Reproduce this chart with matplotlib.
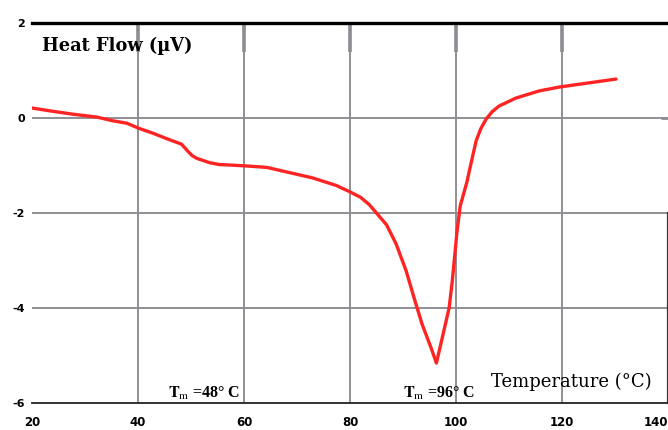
import matplotlib
matplotlib.use("Agg")
import matplotlib.pyplot as plt

# DSC heating curve: temperature (°C) vs heat flow (µV)
temperature = [20.0, 23.4, 27.7, 32.2, 35.3, 37.9, 40.0, 42.8, 46.0, 48.2, 49.4,
               50.2, 51.1, 53.5, 55.3, 57.3, 60.5, 64.3, 68.6, 72.9, 77.4, 79.9,
               82.0, 83.6, 85.0, 86.9, 88.7, 90.6, 92.1, 93.6, 95.3, 96.3, 97.4,
               98.7, 99.3, 100.2, 100.8, 102.1, 102.5, 103.8, 104.7, 105.7, 106.8,
               108.1, 111.3, 115.7, 119.4, 125.1, 130.2]
heat_flow = [0.21, 0.15, 0.08, 0.02, -0.06, -0.11, -0.21, -0.32, -0.46, -0.55, -0.70,
             -0.79, -0.85, -0.94, -0.98, -0.99, -1.01, -1.04, -1.15, -1.26, -1.42, -1.55,
             -1.67, -1.82, -2.00, -2.25, -2.65, -3.22, -3.79, -4.34, -4.84, -5.16, -4.63,
             -4.00, -3.43, -2.38, -1.85, -1.33, -1.12, -0.48, -0.22, -0.02, 0.13,
             0.25, 0.42, 0.57, 0.65, 0.74, 0.82]

x_ticks = [20, 40, 60, 80, 100, 120, 140]
x_tick_labels = ["20", "40", "60", "80", "100", "120", "140"]
y_ticks = [-6, -4, -2, 0, 2]
y_tick_labels = ["-6", "-4", "-2", "0", "2"]
grid_x = [40, 60, 80, 100, 120]
grid_y = [-4, -2, 0]
melt_peaks = [48, 96]

plt.rcParams["mathtext.fontset"] = "stix"

fig = plt.figure(figsize=(6.68, 4.30), dpi=100)
ax = fig.add_axes([32 / 668, 27 / 430, 636 / 668, 380 / 430])
ax.set_xlim(20, 140)
ax.set_ylim(-6, 2)

grid_col = "#8e8e94"
for gx in grid_x:
    ax.axvline(gx, color=grid_col, lw=1.4, zorder=1)
for gy in grid_y:
    ax.axhline(gy, color=grid_col, lw=1.4, zorder=1)

ax.plot(temperature, heat_flow, color="#ff2424", lw=2.4, zorder=3,
        solid_joinstyle="round", solid_capstyle="round")

# frame
ax.spines["left"].set_visible(False)
ax.spines["top"].set_linewidth(2.4)
ax.spines["top"].set_color("black")
ax.spines["bottom"].set_linewidth(1.3)
ax.spines["bottom"].set_color("#222222")
ax.spines["right"].set_linewidth(1.6)
ax.spines["right"].set_color("#333333")
ax.spines["right"].set_bounds(-6, -2)

x_font = dict(family="DejaVu Sans", weight="bold", size=8.5)
y_font = dict(family="DejaVu Sans", weight="bold", size=8)
ax.set_xticks(x_ticks)
ax.set_xticklabels(x_tick_labels, fontdict=x_font)
ax.set_yticks(y_ticks)
ax.set_yticklabels(y_tick_labels, fontdict=y_font)
ax.tick_params(axis="x", length=0, pad=9)
ax.tick_params(axis="y", length=0, pad=5)
labels = ax.get_xticklabels()
labels[-1].set_ha("right")

# heavy inward marks hanging from the top frame
sec = ax.secondary_xaxis("top")
sec.set_xticks(grid_x)
sec.set_xticklabels([])
sec.tick_params(direction="in", length=21, width=2.6, color="#8a8a90")
sec.spines["top"].set_visible(False)

# small mark on the right frame at zero
sec_y = ax.secondary_yaxis("right")
sec_y.set_yticks([0])
sec_y.set_yticklabels([])
sec_y.tick_params(direction="in", length=5, width=2.0, color="#8a8a90")
sec_y.spines["right"].set_visible(False)

ax.text(0.016, 0.94, "Heat Flow (\u00b5V)", transform=ax.transAxes,
        family="DejaVu Serif", weight="bold", size=12.8, va="center", ha="left")

for tm, lx in zip(melt_peaks, [45.7, 90.0]):
    ax.text(lx, -5.8, r"$\mathbf{T}_{\mathrm{m}}$" + " =%d\u00b0 C" % tm,
            family="Liberation Serif", weight="bold", size=11.5,
            ha="left", va="center")

ax.text(121.7, -5.56, "Temperature (\u00b0C)", family="DejaVu Serif",
        size=13, ha="center", va="center")

fig.savefig("out.png", dpi=100)
